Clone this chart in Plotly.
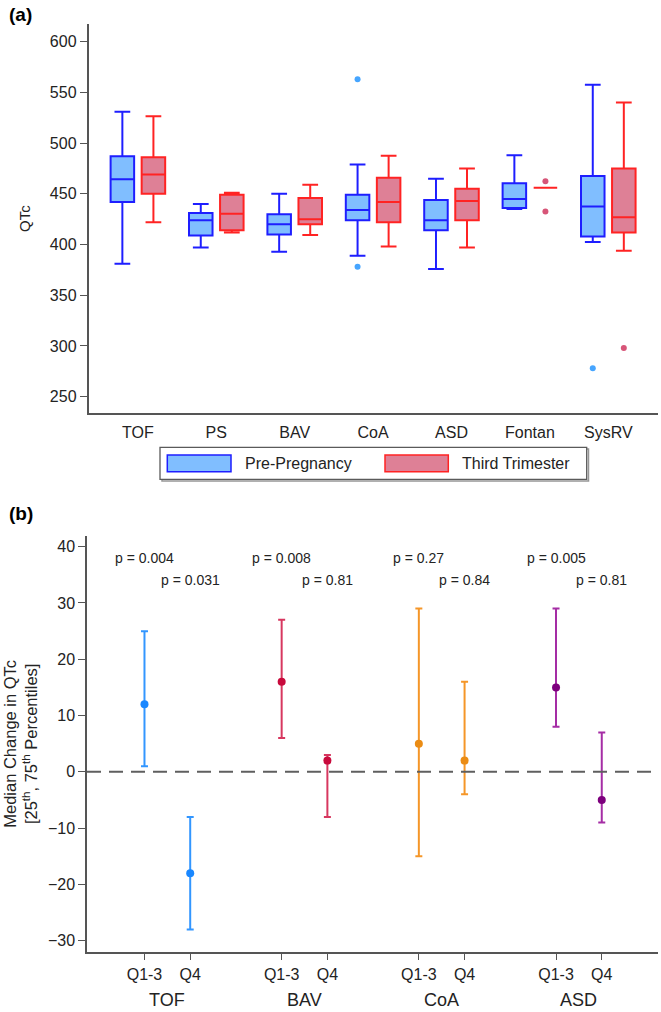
import plotly.graph_objects as go

# ---------------- Panel (a) data ----------------
categories = ["TOF", "PS", "BAV", "CoA", "ASD", "Fontan", "SysRV"]

pre_lo = [381, 397, 393, 389, 376, 435, 402.5]
pre_q1 = [442, 409, 410, 424, 414, 436, 408]
pre_med = [464.5, 424, 420, 434, 424, 445, 437.5]
pre_q3 = [487, 431, 430, 449, 444, 460.5, 467.5]
pre_hi = [531, 440, 450, 479, 465, 488, 557.5]
pre_out_cat = ["CoA", "CoA", "SysRV"]
pre_out_val = [563, 378, 278]

tt_lo = [422, 412, 409.5, 398, 397, 456, 394]
tt_q1 = [450, 414, 420, 422, 424, 456, 412]
tt_med = [469, 430.5, 425, 442, 443, 456, 427]
tt_q3 = [486, 449, 446, 466, 455, 456, 475]
tt_hi = [526.5, 451, 459, 487.5, 475, 456, 540]
tt_out_cat = ["Fontan", "Fontan", "SysRV"]
tt_out_val = [462.5, 432.5, 298]

series_names = ["Pre-Pregnancy", "Third Trimester"]

# ---------------- Panel (b) data ----------------
groups = ["TOF", "BAV", "CoA", "ASD"]
period_labels = ["Q1-3", "Q4"]
q13_med = [12, 16, 5, 15]
q13_p25 = [1, 6, -15, 8]
q13_p75 = [25, 27, 29, 29]
q4_med = [-18, 2, 2, -5]
q4_p25 = [-28, -8, -4, -9]
q4_p75 = [-8, 3, 16, 7]
p_q13 = ["p = 0.004", "p = 0.008", "p = 0.27", "p = 0.005"]
p_q4 = ["p = 0.031", "p = 0.81", "p = 0.84", "p = 0.81"]

# ---------------- styles ----------------
W, H = 661, 1012
FONT = "Liberation Sans, Arial, sans-serif"
TXT = "rgb(35,35,35)"
AX = "rgb(85,85,85)"
BLUE_LINE, BLUE_FILL, BLUE_PT = "rgb(30,30,255)", "rgb(128,190,255)", "rgb(70,165,255)"
RED_LINE, RED_FILL, RED_PT = "rgb(255,35,35)", "rgb(222,128,150)", "rgb(215,85,120)"
bar_cols = ["rgb(50,150,255)", "rgb(215,55,95)", "rgb(245,150,40)", "rgb(165,45,165)"]
dot_cols = ["rgb(25,135,255)", "rgb(200,10,60)", "rgb(235,140,20)", "rgb(125,0,125)"]


def px_x(px):
    return px / W


def px_y(py):
    return 1 - py / H


fig = go.Figure()

OFF = 0.198
BW = 0.30
idx = {c: i for i, c in enumerate(categories)}

for name, lo, q1, med, q3, hi, lc, fc, sgn in [
    (series_names[0], pre_lo, pre_q1, pre_med, pre_q3, pre_hi, BLUE_LINE, BLUE_FILL, -1),
    (series_names[1], tt_lo, tt_q1, tt_med, tt_q3, tt_hi, RED_LINE, RED_FILL, 1),
]:
    fig.add_trace(go.Box(
        name=name,
        x=[i + sgn * OFF for i in range(len(categories))],
        q1=q1, median=med, q3=q3, lowerfence=lo, upperfence=hi,
        width=BW, whiskerwidth=0.67,
        fillcolor=fc, line=dict(color=lc, width=2),
        boxpoints=False, showlegend=False, hoverinfo="skip",
        xaxis="x", yaxis="y",
    ))

for cats, vals, col, sgn in [(pre_out_cat, pre_out_val, BLUE_PT, -1),
                             (tt_out_cat, tt_out_val, RED_PT, 1)]:
    fig.add_trace(go.Scatter(
        x=[idx[c] + sgn * OFF for c in cats], y=vals, mode="markers",
        marker=dict(color=col, size=6), showlegend=False, hoverinfo="skip",
        xaxis="x", yaxis="y",
    ))

# Panel (b)
pos_q13 = [3 * i + 1 for i in range(len(groups))]
pos_q4 = [3 * i + 2 for i in range(len(groups))]
for i, g in enumerate(groups):
    xs = [pos_q13[i], pos_q4[i]]
    meds = [q13_med[i], q4_med[i]]
    p75 = [q13_p75[i], q4_p75[i]]
    p25 = [q13_p25[i], q4_p25[i]]
    fig.add_trace(go.Scatter(
        x=xs, y=meds, mode="markers",
        marker=dict(color=dot_cols[i], size=8),
        error_y=dict(type="data", symmetric=False,
                     array=[a - m for a, m in zip(p75, meds)],
                     arrayminus=[m - b for m, b in zip(meds, p25)],
                     color=bar_cols[i], thickness=2, width=3.5),
        showlegend=False, hoverinfo="skip", xaxis="x2", yaxis="y2",
    ))

annotations = []
for i in range(len(groups)):
    annotations.append(dict(x=pos_q13[i], y=38, xref="x2", yref="y2", text=p_q13[i],
                            showarrow=False, font=dict(size=14, color=TXT, family=FONT)))
    annotations.append(dict(x=pos_q4[i], y=34, xref="x2", yref="y2", text=p_q4[i],
                            showarrow=False, font=dict(size=14, color=TXT, family=FONT)))
    annotations.append(dict(x=(pos_q13[i] + pos_q4[i]) / 2, y=0, xref="x2", yref="paper",
                            text=groups[i], showarrow=False, yanchor="bottom",
                            font=dict(size=18, color=TXT, family=FONT)))

annotations.append(dict(x=px_x(7), y=px_y(14), xref="paper", yref="paper", text="<b>(a)</b>",
                        xanchor="left", yanchor="middle", showarrow=False,
                        font=dict(size=19, color="black", family=FONT)))
annotations.append(dict(x=px_x(7), y=px_y(513), xref="paper", yref="paper", text="<b>(b)</b>",
                        xanchor="left", yanchor="middle", showarrow=False,
                        font=dict(size=19, color="black", family=FONT)))

# Custom legend for panel (a)
shapes = []
shapes.append(dict(type="rect", xref="paper", yref="paper",
                   x0=px_x(162), x1=px_x(588.5), y0=px_y(481), y1=px_y(449),
                   line=dict(color="rgb(150,150,150)", width=1.5), fillcolor="rgba(0,0,0,0)", layer="below"))
shapes.append(dict(type="rect", xref="paper", yref="paper",
                   x0=px_x(160), x1=px_x(586.7), y0=px_y(479.3), y1=px_y(447.3),
                   line=dict(color="rgb(90,90,90)", width=1.3), fillcolor="white"))
for (x0, x1, fc, lc, txt, tx) in [(167.3, 231, BLUE_FILL, BLUE_LINE, series_names[0], 242.5),
                                  (385, 448.3, RED_FILL, RED_LINE, series_names[1], 460)]:
    shapes.append(dict(type="rect", xref="paper", yref="paper",
                       x0=px_x(x0), x1=px_x(x1), y0=px_y(471.7), y1=px_y(455),
                       line=dict(color=lc, width=1.5), fillcolor=fc))
    annotations.append(dict(x=px_x(tx), y=px_y(463.5), xref="paper", yref="paper", text=txt,
                            xanchor="left", yanchor="middle", showarrow=False,
                            font=dict(size=16, color=TXT, family=FONT)))

shapes.append(dict(type="line", xref="x2 domain", yref="y2", x0=0, x1=1, y0=0, y1=0,
                   line=dict(color="rgb(95,95,95)", width=2, dash="14px,8px")))

fig.update_layout(
    width=W, height=H, autosize=False,
    margin=dict(l=0, r=0, t=0, b=0),
    paper_bgcolor="white", plot_bgcolor="white",
    font=dict(family=FONT, color=TXT),
    boxmode="overlay",
    showlegend=False,
    xaxis=dict(domain=[px_x(88.5), px_x(658)], anchor="y", range=[-0.63, 6.634],
               tickvals=list(range(len(categories))), ticktext=categories,
               showline=True, linecolor=AX, linewidth=1.5, ticks="", showgrid=False,
               zeroline=False, tickfont=dict(size=16, color=TXT), ticklabelstandoff=4),
    yaxis=dict(domain=[px_y(413.3), px_y(24)], anchor="x", range=[233.6, 617.5],
               tickvals=[250, 300, 350, 400, 450, 500, 550, 600],
               showline=True, linecolor=AX, linewidth=1.5, ticks="outside", ticklen=7,
               tickcolor=AX, tickwidth=1.3, showgrid=False, zeroline=False,
               tickfont=dict(size=16, color=TXT),
               title=dict(text="QTc", font=dict(size=15, color=TXT), standoff=16)),
    xaxis2=dict(domain=[px_x(87), px_x(658)], anchor="y2", range=[-0.257, 12.23],
                tickvals=pos_q13 + pos_q4,
                ticktext=[period_labels[0]] * len(groups) + [period_labels[1]] * len(groups),
                showline=True, linecolor=AX, linewidth=1.5, ticks="outside", ticklen=7,
                tickcolor=AX, tickwidth=1.3, showgrid=False, zeroline=False,
                tickfont=dict(size=16, color=TXT)),
    yaxis2=dict(domain=[px_y(951.7), px_y(536)], anchor="x2", range=[-31.95, 41.9],
                tickvals=[-30, -20, -10, 0, 10, 20, 30, 40],
                showline=True, linecolor=AX, linewidth=1.5, ticks="outside", ticklen=7,
                tickcolor=AX, tickwidth=1.3, showgrid=False, zeroline=False,
                tickfont=dict(size=16, color=TXT),
                title=dict(text="Median Change in QTc<br>[25<sup>th</sup>, 75<sup>th</sup> Percentiles]",
                           font=dict(size=16.5, color=TXT), standoff=6)),
    annotations=annotations,
    shapes=shapes,
)

fig.write_html("out.html", config={"displayModeBar": False},
               post_script="document.body.style.margin='0';document.body.style.overflow='hidden';")
